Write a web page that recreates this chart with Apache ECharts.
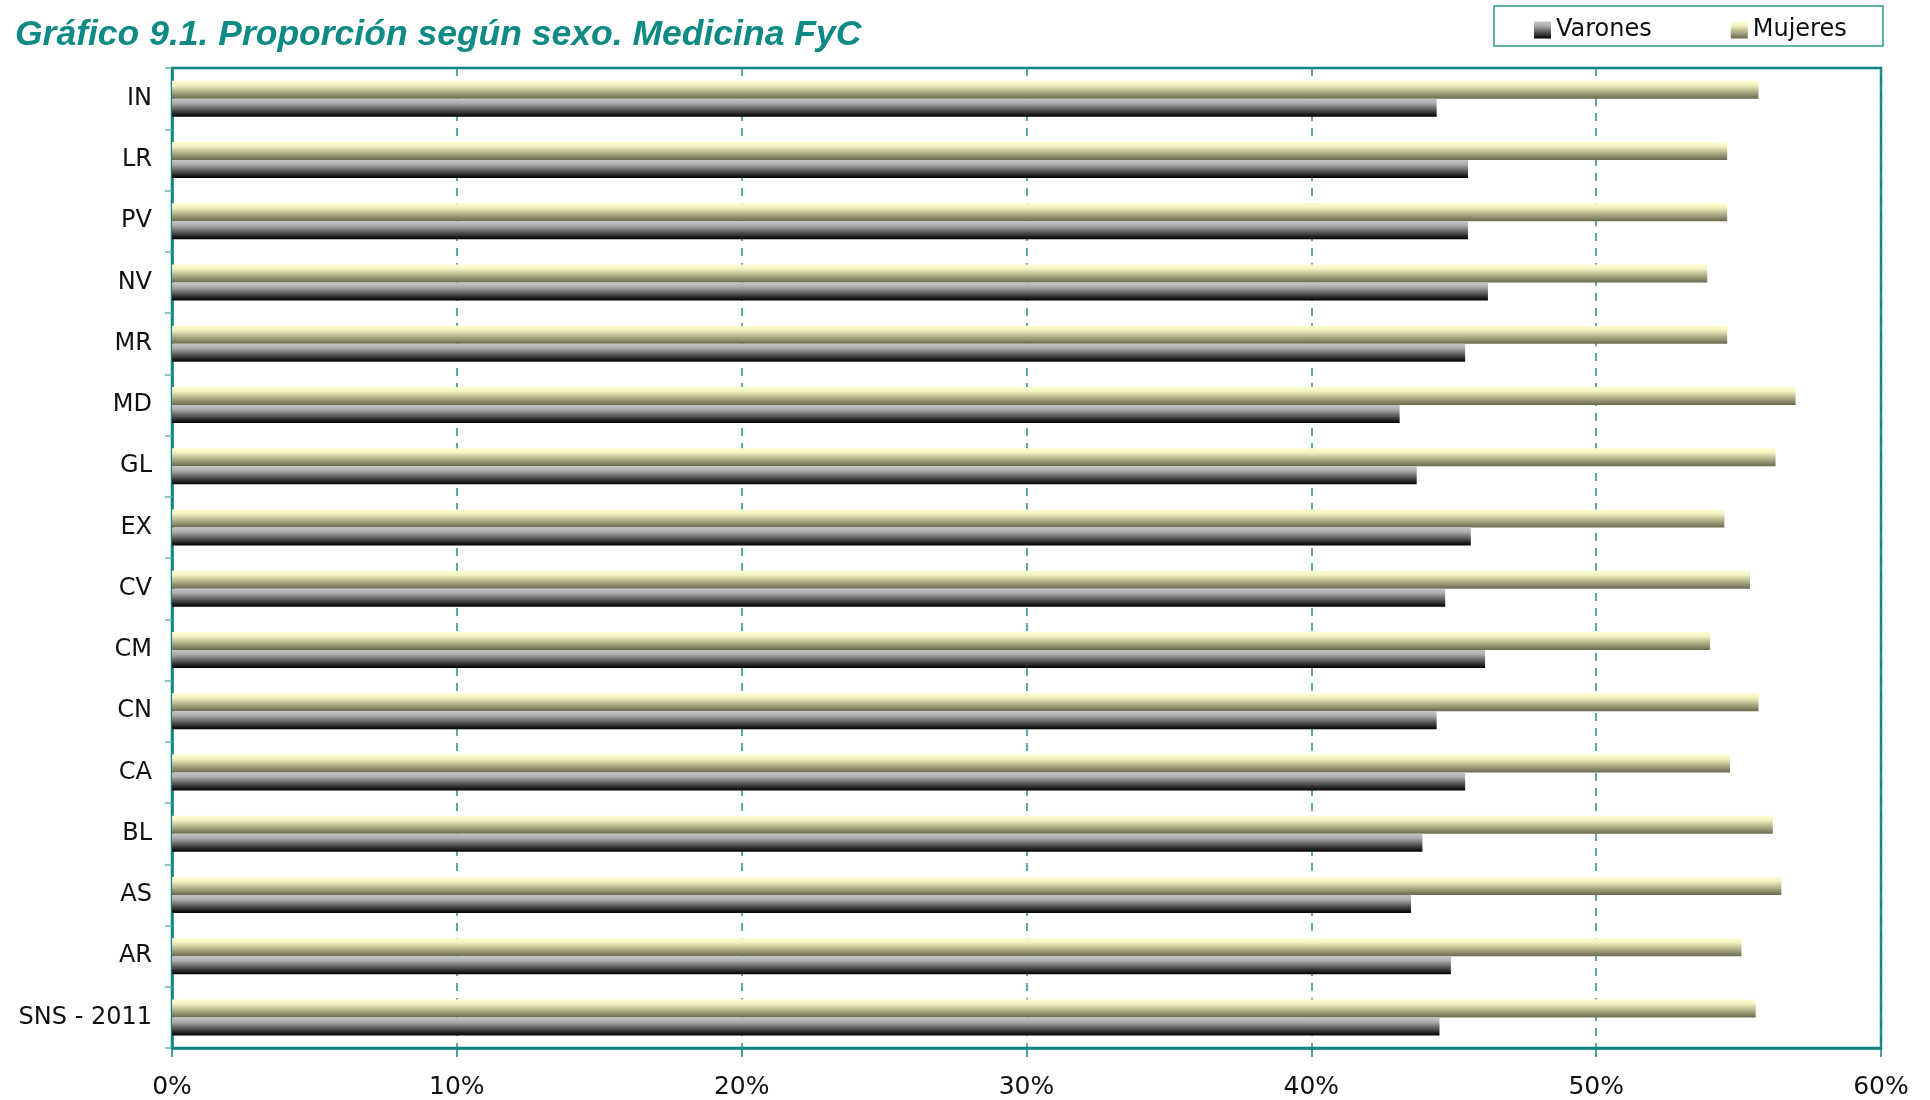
<!DOCTYPE html>
<html>
<head>
<meta charset="utf-8">
<title>Gráfico 9.1</title>
<script src="https://cdn.jsdelivr.net/npm/echarts@6/dist/echarts.min.js"></script>
<style>
html, body { margin: 0; padding: 0; background: #fff; }
#chart { width: 1930px; height: 1100px; }
</style>
</head>
<body>
<div id="chart"></div>
<script>
// categorias (de abajo a arriba)
var regiones = ['SNS - 2011', 'AR', 'AS', 'BL', 'CA', 'CN', 'CM', 'CV', 'EX', 'GL', 'MD', 'MR', 'NV', 'PV', 'LR', 'IN'];
// porcentajes
var varones = [44.5, 44.9, 43.5, 43.9, 45.4, 44.4, 46.1, 44.7, 45.6, 43.7, 43.1, 45.4, 46.2, 45.5, 45.5, 44.4];
var mujeres = [55.6, 55.1, 56.5, 56.2, 54.7, 55.7, 54.0, 55.4, 54.5, 56.3, 57.0, 54.6, 53.9, 54.6, 54.6, 55.7];
var ticksX = [0, 10, 20, 30, 40, 50, 60];

var teal = '#0d8581';
var chart = echarts.init(document.getElementById('chart'));

var gradVarones = new echarts.graphic.LinearGradient(0, 0, 0, 1, [
    { offset: 0, color: '#c6c6c6' },
    { offset: 0.25, color: '#adadad' },
    { offset: 1, color: '#000000' }
]);
var gradMujeres = new echarts.graphic.LinearGradient(0, 0, 0, 1, [
    { offset: 0, color: '#ffffd4' },
    { offset: 0.25, color: '#f1f1c0' },
    { offset: 1, color: '#6a6a4f' }
]);

var option = {
    backgroundColor: '#ffffff',
    animation: false,
    title: {
        text: 'Gráfico 9.1. Proporción según sexo. Medicina FyC',
        left: 10,
        top: 12,
        textStyle: {
            color: '#0e8a84',
            fontFamily: 'Liberation Sans, Arial, sans-serif',
            fontStyle: 'italic',
            fontWeight: 'bold',
            fontSize: 35.5
        }
    },
    graphic: [{
        type: 'rect',
        shape: { x: 1494, y: 6, width: 389, height: 40 },
        style: { fill: 'none', stroke: '#2a9a95', lineWidth: 1.5 }
    }],
    legend: {
        data: ['Varones', 'Mujeres'],
        left: 1529,
        top: 13,
        itemWidth: 17,
        itemHeight: 17,
        itemGap: 79,
        icon: 'rect',
        textStyle: {
            fontFamily: 'DejaVu Sans, sans-serif',
            fontSize: 24,
            color: '#111'
        }
    },
    grid: {
        left: 172,
        right: 49,
        top: 68,
        bottom: 51,
        show: true,
        borderColor: teal,
        borderWidth: 2.5
    },
    xAxis: {
        type: 'value',
        min: ticksX[0],
        max: ticksX[ticksX.length - 1],
        interval: 10,
        axisLine: { show: true, lineStyle: { color: teal, width: 2.5 } },
        axisTick: { show: true, length: 9, lineStyle: { color: teal, width: 1.5 } },
        axisLabel: {
            formatter: '{value}%',
            margin: 27,
            fontFamily: 'DejaVu Sans, sans-serif',
            fontSize: 25,
            color: '#111'
        },
        splitLine: {
            show: true,
            lineStyle: { color: '#2a8c88', width: 1.5, type: [8, 7] }
        }
    },
    yAxis: {
        type: 'category',
        data: regiones,
        axisLine: { show: true, lineStyle: { color: teal, width: 2.5 } },
        axisTick: { show: true, length: 7, lineStyle: { color: '#66b3ae', width: 1.5 } },
        axisLabel: {
            margin: 20,
            fontFamily: 'DejaVu Sans, sans-serif',
            fontSize: 24,
            color: '#111'
        }
    },
    // Mujeres va primero para quedar arriba en cada grupo
    series: [
        {
            name: 'Mujeres',
            type: 'bar',
            data: mujeres,
            barWidth: 18,
            barGap: '0%',
            itemStyle: { color: gradMujeres }
        },
        {
            name: 'Varones',
            type: 'bar',
            data: varones,
            barWidth: 18,
            barGap: '0%',
            itemStyle: { color: gradVarones }
        }
    ]
};

chart.setOption(option);
</script>
</body>
</html>
